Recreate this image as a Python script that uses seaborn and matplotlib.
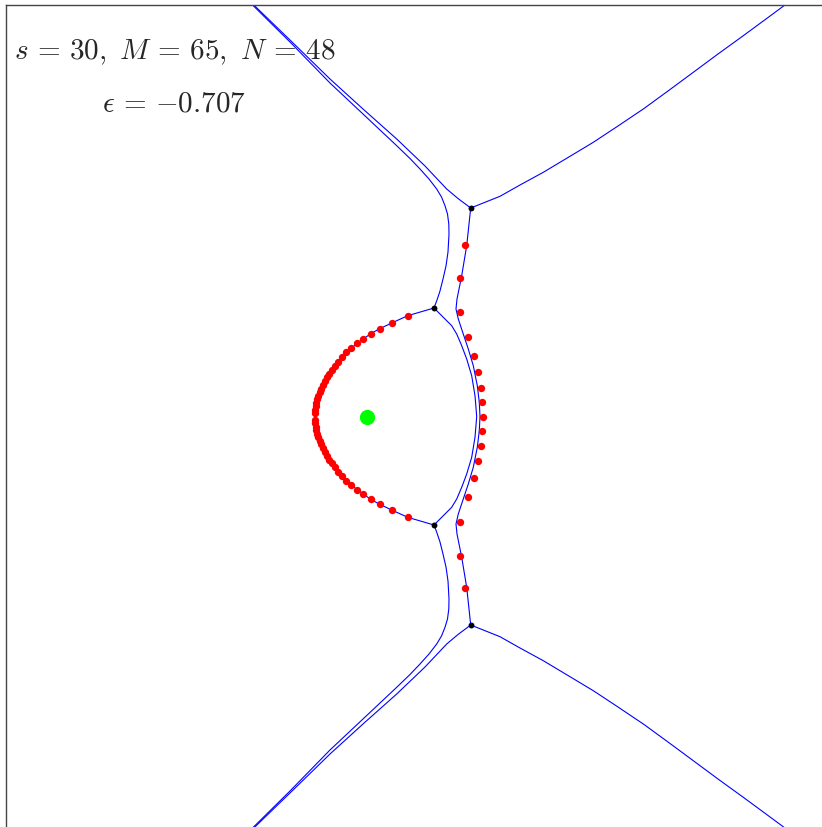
import matplotlib
matplotlib.use('Agg')
import numpy as np
import seaborn as sns
import matplotlib.pyplot as plt

sns.set_style('white')
plt.rcParams['mathtext.fontset'] = 'cm'

# blue curves (upper half first, then their mirror images below)
c1_x = [250.7, 290.0, 330.0, 363.0, 396.7, 425.0, 446.7, 458.0, 470.7]
c1_y = [3.0, 41.0, 80.0, 110.0, 140.0, 167.0, 190.0, 199.5, 209.0]
c2_x = [248.5, 290.0, 330.0, 363.0, 396.7, 410.0, 420.0, 429.0, 436.7, 441.5, 445.0, 447.5,
        448.8, 449.0, 448.0, 446.0, 443.0, 440.0, 437.0, 434.0]
c2_y = [2.0, 43.0, 84.0, 115.0, 146.7, 159.5, 170.0, 180.0, 190.0, 198.0, 206.7, 215.0,
        225.0, 235.0, 253.0, 267.0, 280.0, 292.0, 301.0, 309.0]
c3_x = [470.7, 500.0, 520.0, 543.3, 568.0, 593.3, 618.0, 643.3, 668.0, 693.3, 718.0, 743.3, 766.0, 789.0]
c3_y = [209.0, 197.3, 186.0, 173.3, 158.5, 143.3, 127.0, 110.0, 92.0, 73.3, 55.0, 36.7, 20.0, 3.0]
c4_x = [470.7, 466.7, 461.7, 457.0, 456.0, 458.3, 462.7, 468.3, 473.3, 477.3, 479.3, 480.0,
        479.3, 477.3, 473.3, 468.3, 462.7, 458.3, 456.0, 457.0, 461.7, 466.7, 470.7]
c4_y = [209.0, 246.7, 276.7, 300.0, 310.0, 320.0, 333.3, 350.0, 366.7, 386.7, 403.3, 417.5,
        431.7, 448.3, 468.3, 485.0, 501.7, 515.0, 525.0, 535.0, 558.3, 588.3, 626.0]
c5_x = [434.0, 443.3, 451.7, 456.7, 461.7, 466.7, 471.7, 475.0, 476.7,
        475.0, 471.7, 466.7, 461.7, 456.7, 451.7, 443.3, 434.0]
c5_y = [309.0, 318.3, 326.7, 335.0, 346.7, 360.0, 376.7, 396.7, 417.5,
        438.3, 458.3, 475.0, 488.3, 500.0, 508.3, 516.7, 526.0]
c7_x = [434.0, 437.0, 440.0, 443.0, 446.0, 448.0, 449.0, 448.8, 447.5, 445.0, 441.5, 436.7,
        429.0, 420.0, 410.0, 396.7, 363.0, 330.0, 290.0, 248.5]
c7_y = [526.0, 534.0, 543.0, 555.0, 568.0, 582.0, 600.0, 610.0, 620.0, 628.3, 637.0, 645.0,
        655.0, 665.0, 675.5, 688.3, 720.0, 751.0, 792.0, 833.0]
c8_x = [470.7, 458.0, 446.7, 425.0, 396.7, 363.0, 330.0, 290.0, 250.7]
c8_y = [626.0, 635.5, 645.0, 668.0, 695.0, 725.0, 755.0, 794.0, 832.0]
c9_x = [470.7, 500.0, 520.0, 543.3, 568.0, 593.3, 618.0, 643.3, 668.0, 693.3, 718.0, 743.3, 766.0, 789.0]
c9_y = [626.0, 637.7, 649.0, 661.7, 676.5, 691.7, 708.0, 725.0, 743.0, 761.7, 780.0, 798.3, 815.0, 832.0]

# red points: left arc (N = 48) and right column (17)
arc_x = [407.7, 391.7, 379.7, 370.7, 363.3, 357.0, 351.3, 346.3, 342.0, 338.3, 335.0, 331.9,
         329.2, 326.7, 324.6, 322.6, 321.0, 319.5, 318.3, 317.2, 316.4, 315.8, 315.3, 315.1,
         315.1, 315.3, 315.8, 316.4, 317.2, 318.3, 319.5, 321.0, 322.6, 324.6, 326.7, 329.2,
         331.9, 335.0, 338.3, 342.0, 346.3, 351.3, 357.0, 363.3, 370.7, 379.7, 391.7, 407.7]
arc_y = [316.7, 324.0, 329.7, 334.7, 340.0, 344.3, 349.3, 353.3, 358.3, 362.5, 366.6, 370.6,
         374.5, 378.4, 382.3, 386.0, 389.7, 393.3, 396.9, 400.4, 403.9, 407.4, 410.8, 414.3,
         420.7, 424.2, 427.6, 431.1, 434.6, 438.1, 441.7, 445.3, 449.0, 452.7, 456.6, 460.5,
         464.4, 468.4, 472.5, 476.7, 481.7, 485.7, 490.7, 495.0, 500.3, 505.3, 511.0, 518.3]
right_x = [465.0, 460.0, 460.0, 468.3, 474.3, 478.3, 480.7, 482.3, 483.0,
           482.3, 480.7, 478.3, 474.3, 468.3, 460.0, 460.0, 465.0]
right_y = [246.0, 279.0, 313.3, 337.7, 356.7, 373.3, 389.0, 403.3, 417.7,
           432.3, 446.7, 462.0, 478.7, 497.7, 522.7, 556.7, 589.3]

# black junction points and green centre
black_x = [470.7, 434.0, 434.0, 470.7]
black_y = [209.0, 309.0, 526.0, 626.0]
green_x = [367.0]
green_y = [417.5]

fig = plt.figure(figsize=(8.22, 8.28), dpi=100)
ax = fig.add_axes([5.5 / 822, -5 / 828, 824.5 / 822, 827.5 / 828])

ax.text(174.5, 52, r'$s\,=\,30,\ M\,=\,65,\ N\,=\,48$', fontsize=21,
        ha='center', va='center', zorder=1)
ax.text(174, 103, r'$\epsilon\,=\,{-}0.707$', fontsize=21, ha='center', va='center', zorder=1)

# left side of the lens follows the red arc
c6_x = [434.0] + arc_x + [434.0]
c6_y = [309.0] + arc_y + [526.0]

for cx, cy in [(c1_x, c1_y), (c2_x, c2_y), (c3_x, c3_y), (c4_x, c4_y), (c5_x, c5_y),
               (c6_x, c6_y), (c7_x, c7_y), (c8_x, c8_y), (c9_x, c9_y)]:
    sns.lineplot(x=cx, y=cy, sort=False, estimator=None, color='#0000ff',
                 linewidth=0.8, ax=ax, zorder=2)

sns.scatterplot(x=arc_x + right_x, y=arc_y + right_y, color='#ff0000', s=28,
                linewidth=0, ax=ax, zorder=3)
sns.scatterplot(x=black_x, y=black_y, color='black', s=18, linewidth=0, ax=ax, zorder=4)
sns.scatterplot(x=green_x, y=green_y, color='#00ff00', s=120, linewidth=0, ax=ax, zorder=5)

ax.set_xlim(5.5, 830)
ax.set_ylim(833, 5.5)
ax.set_xticks([])
ax.set_yticks([])
ax.set_xlabel('')
ax.set_ylabel('')
for sp in ax.spines.values():
    sp.set_visible(True)
    sp.set_color('#444444')
    sp.set_linewidth(1.0)

fig.savefig('out.png', dpi=100)
